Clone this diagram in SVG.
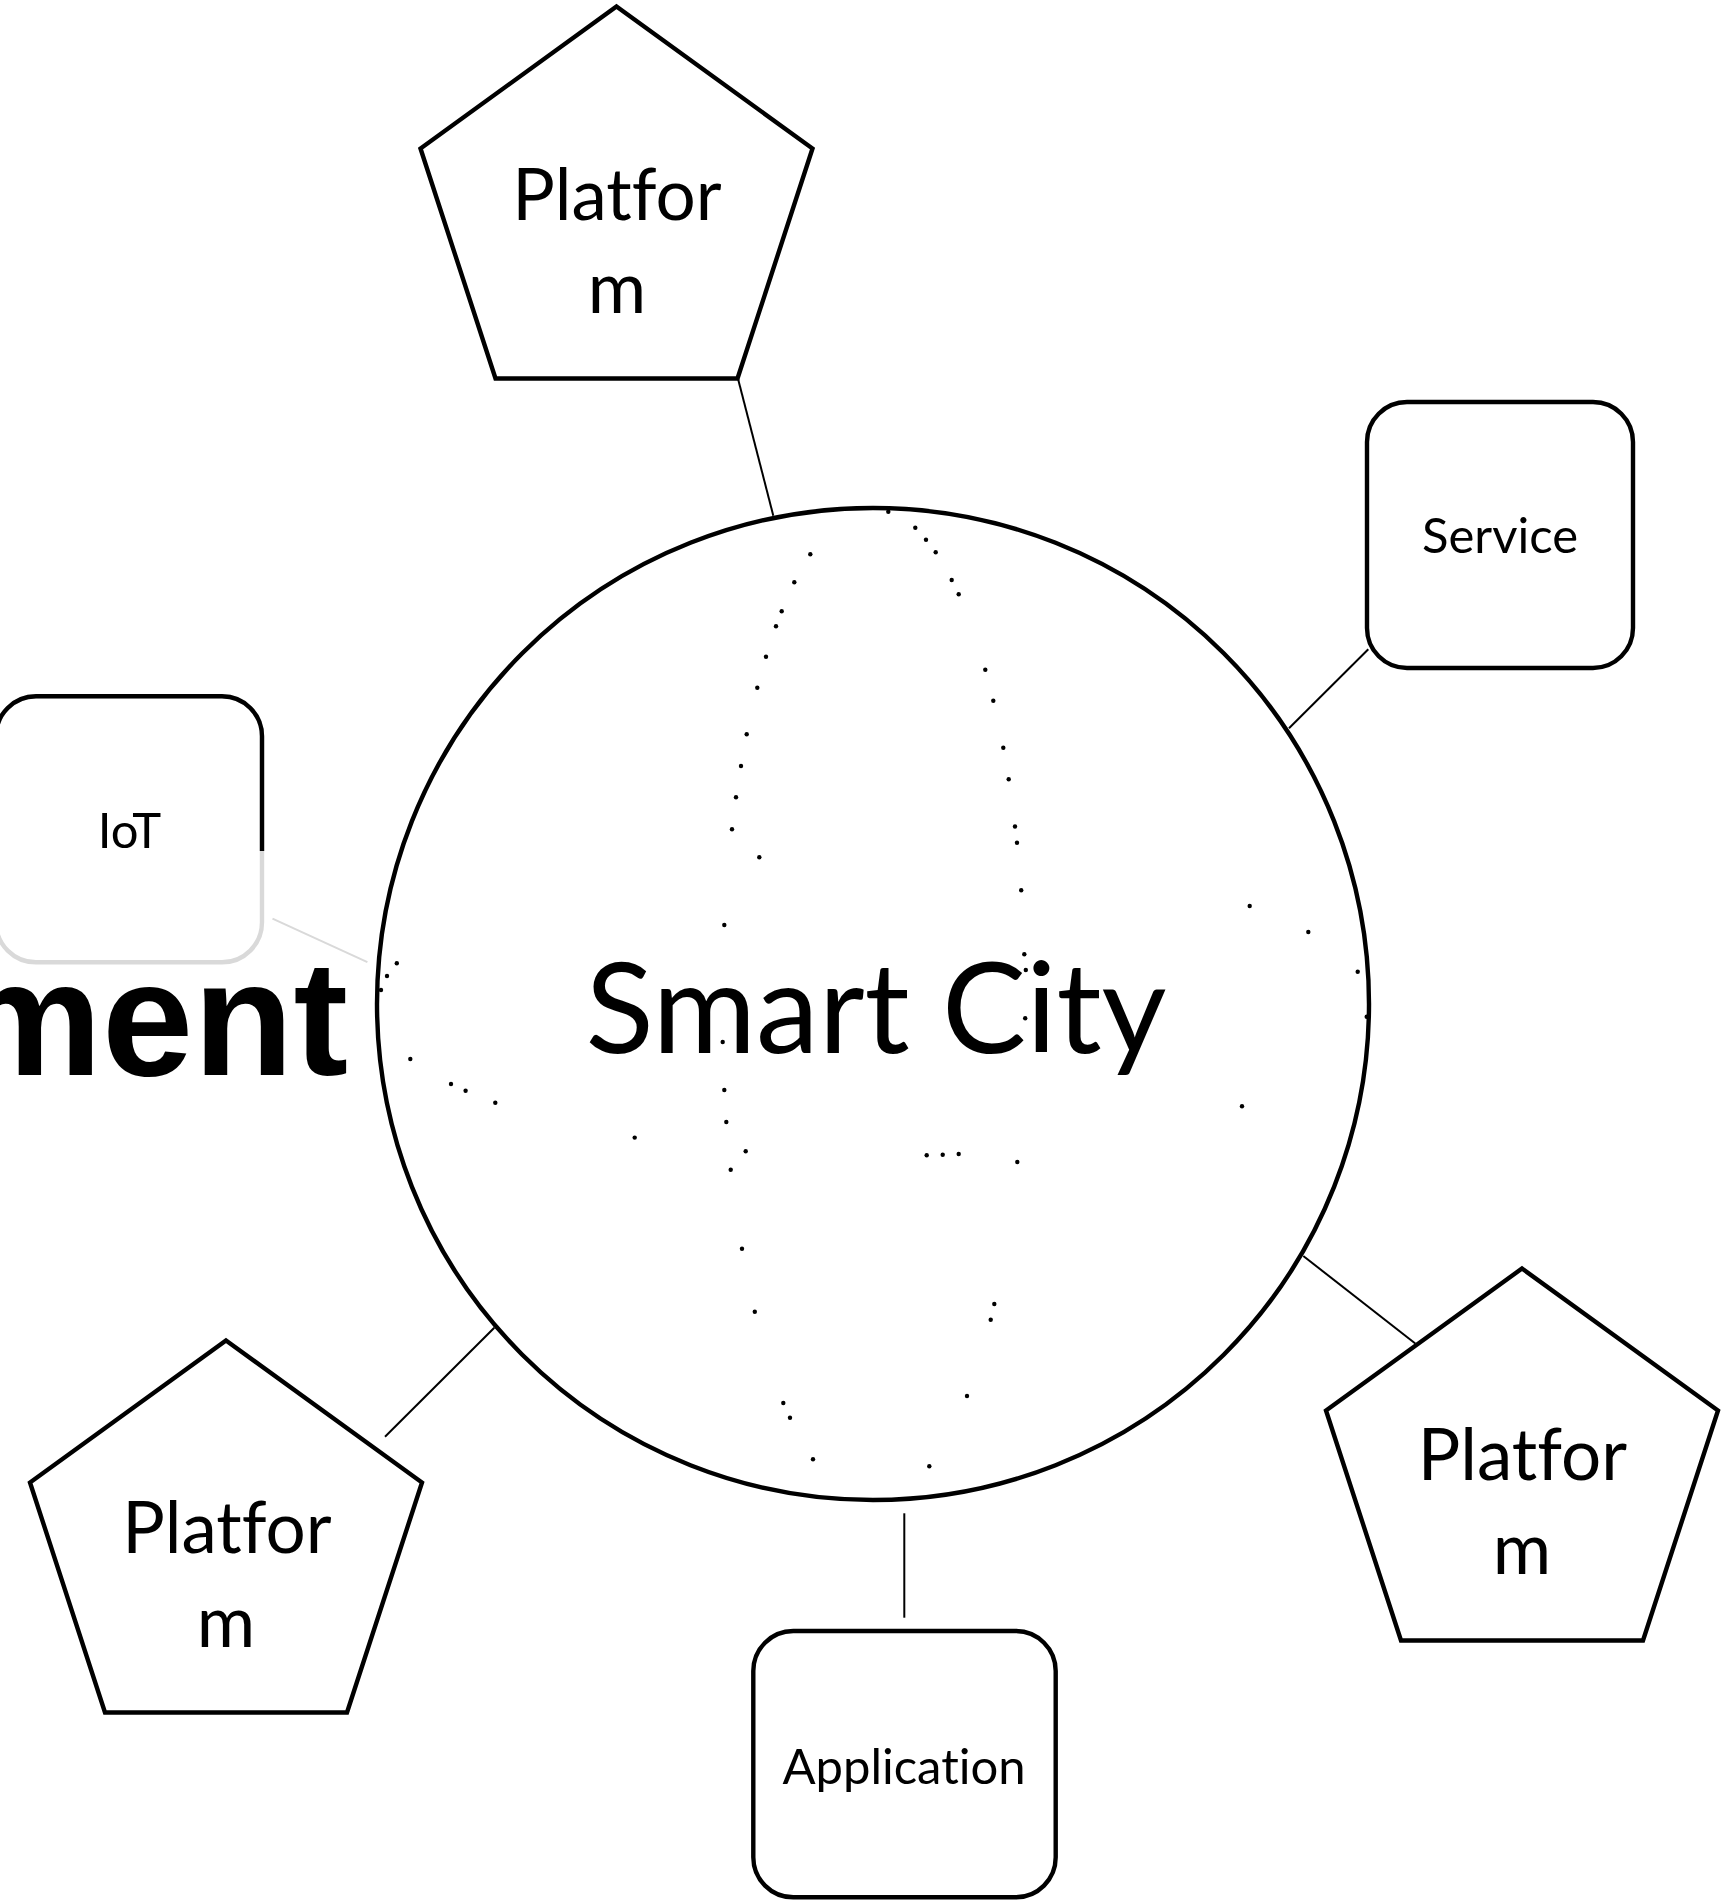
<svg xmlns="http://www.w3.org/2000/svg" width="1726" height="1901" viewBox="0 0 1726 1901">
<defs>
<style>
.shape{fill:#ffffff;stroke:#000000;stroke-width:4.4;stroke-linejoin:miter}
.conn{stroke:#000000;stroke-width:2;fill:none}
.lbl{font-family:Lato,"Open Sans","DejaVu Sans",sans-serif;fill:#000000;text-anchor:middle;font-variant-ligatures:none;font-feature-settings:"liga" 0,"clig" 0}
.pl{font-size:71px}
.bx{font-size:49px}
.dot{fill:#000000}
</style>
<polygon id="pent" points="0,0 196,142 121,372 -121,372 -196,142"/>
</defs>
<rect width="1726" height="1901" fill="#ffffff"/>

<g id="title-fragment">
<text x="348" y="1074.5" font-family="'Liberation Sans',Arial,sans-serif" font-weight="bold" font-size="164" text-anchor="end" fill="#000000">ment</text>
</g>

<g id="connectors">
<line class="conn" x1="738" y1="378.7" x2="773.3" y2="515.7"/>
<line class="conn" x1="1368.3" y1="649.3" x2="1289" y2="728.3"/>
<line class="conn" x1="1303.3" y1="1256" x2="1415.3" y2="1343.5"/>
<line class="conn" x1="904.3" y1="1513.3" x2="904.3" y2="1617.7"/>
<line class="conn" x1="494.3" y1="1327.7" x2="385" y2="1436.7"/>
<line x1="272.5" y1="918.7" x2="367.4" y2="962.2" stroke="#d9d9d9" stroke-width="2"/>
</g>

<g id="smart-city">
<circle class="shape" cx="873" cy="1004" r="496"/>
<text class="lbl" x="876" y="1052.6" font-size="126">Smart City</text>
</g>

<g id="dots">
<circle class="dot" cx="888.3" cy="511.7" r="2.2"/>
<circle class="dot" cx="915.3" cy="527.7" r="2.2"/>
<circle class="dot" cx="926" cy="539.7" r="2.2"/>
<circle class="dot" cx="935.7" cy="552.3" r="2.2"/>
<circle class="dot" cx="951.7" cy="580" r="2.2"/>
<circle class="dot" cx="958.7" cy="594.3" r="2.2"/>
<circle class="dot" cx="985.3" cy="669.7" r="2.2"/>
<circle class="dot" cx="993.3" cy="700.7" r="2.2"/>
<circle class="dot" cx="1003.3" cy="747.7" r="2.2"/>
<circle class="dot" cx="1008.7" cy="779.3" r="2.2"/>
<circle class="dot" cx="1015" cy="826.5" r="2.2"/>
<circle class="dot" cx="1017" cy="842.8" r="2.2"/>
<circle class="dot" cx="1021.2" cy="890.3" r="2.2"/>
<circle class="dot" cx="1024.3" cy="954.3" r="2.2"/>
<circle class="dot" cx="1025.8" cy="970" r="2.2"/>
<circle class="dot" cx="1025.2" cy="1018.2" r="2.2"/>
<circle class="dot" cx="810.3" cy="554.3" r="2.2"/>
<circle class="dot" cx="794.3" cy="582.3" r="2.2"/>
<circle class="dot" cx="781.7" cy="611.3" r="2.2"/>
<circle class="dot" cx="776" cy="626.3" r="2.2"/>
<circle class="dot" cx="766" cy="656.7" r="2.2"/>
<circle class="dot" cx="757.3" cy="687.7" r="2.2"/>
<circle class="dot" cx="746.7" cy="734.3" r="2.2"/>
<circle class="dot" cx="741" cy="766" r="2.2"/>
<circle class="dot" cx="736" cy="797.3" r="2.2"/>
<circle class="dot" cx="732" cy="829.2" r="2.2"/>
<circle class="dot" cx="759.3" cy="857.3" r="2.2"/>
<circle class="dot" cx="724.3" cy="925" r="2.2"/>
<circle class="dot" cx="396.8" cy="963.3" r="2.2"/>
<circle class="dot" cx="387" cy="976" r="2.2"/>
<circle class="dot" cx="381" cy="990" r="2.2"/>
<circle class="dot" cx="1249.7" cy="906" r="2.2"/>
<circle class="dot" cx="1308.3" cy="932" r="2.2"/>
<circle class="dot" cx="1357.7" cy="971.7" r="2.2"/>
<circle class="dot" cx="1366.7" cy="1016.7" r="2.2"/>
<circle class="dot" cx="410.3" cy="1059" r="2.2"/>
<circle class="dot" cx="451" cy="1084" r="2.2"/>
<circle class="dot" cx="465.6" cy="1090.8" r="2.2"/>
<circle class="dot" cx="495.3" cy="1102.8" r="2.2"/>
<circle class="dot" cx="634.7" cy="1137.6" r="2.2"/>
<circle class="dot" cx="722.7" cy="1042" r="2.2"/>
<circle class="dot" cx="724.3" cy="1090" r="2.2"/>
<circle class="dot" cx="726.3" cy="1122" r="2.2"/>
<circle class="dot" cx="745.7" cy="1151.3" r="2.2"/>
<circle class="dot" cx="730.7" cy="1169.7" r="2.2"/>
<circle class="dot" cx="742" cy="1248.8" r="2.2"/>
<circle class="dot" cx="754.8" cy="1311.7" r="2.2"/>
<circle class="dot" cx="783.3" cy="1403" r="2.2"/>
<circle class="dot" cx="790" cy="1417.7" r="2.2"/>
<circle class="dot" cx="813" cy="1459.3" r="2.2"/>
<circle class="dot" cx="926.7" cy="1155.3" r="2.2"/>
<circle class="dot" cx="942.7" cy="1154.7" r="2.2"/>
<circle class="dot" cx="958.7" cy="1154" r="2.2"/>
<circle class="dot" cx="1017.3" cy="1162" r="2.2"/>
<circle class="dot" cx="1242" cy="1106.3" r="2.2"/>
<circle class="dot" cx="994.3" cy="1304" r="2.2"/>
<circle class="dot" cx="990.7" cy="1319.7" r="2.2"/>
<circle class="dot" cx="967" cy="1396" r="2.2"/>
<circle class="dot" cx="929.3" cy="1466.3" r="2.2"/>
</g>

<g id="platform-top">
<use href="#pent" class="shape" x="616.5" y="6.5"/>
<text class="lbl pl" x="617" y="220">Platfor</text>
<text class="lbl pl" x="617" y="312.7">m</text>
</g>

<g id="platform-left">
<use href="#pent" class="shape" x="226" y="1340.5"/>
<text class="lbl pl" x="227" y="1553.3">Platfor</text>
<text class="lbl pl" x="226" y="1646.5">m</text>
</g>

<g id="platform-right">
<use href="#pent" class="shape" x="1522" y="1268.5"/>
<text class="lbl pl" x="1522.5" y="1480">Platfor</text>
<text class="lbl pl" x="1522" y="1574">m</text>
</g>

<g id="service">
<rect class="shape" x="1367" y="402" width="266" height="266" rx="40" ry="40"/>
<text class="lbl bx" x="1500" y="553">Service</text>
</g>

<g id="application">
<rect class="shape" x="753.3" y="1631" width="302.4" height="266.3" rx="40" ry="40"/>
<text class="lbl bx" x="904" y="1784">Application</text>
</g>

<g id="iot">
<rect x="-4" y="696.3" width="266" height="266" rx="40" ry="40" fill="#ffffff" stroke="#d9d9d9" stroke-width="4.4"/>
<path d="M262 851 V736.3 A40 40 0 0 0 222 696.3 H36 A40 40 0 0 0 -4 736.3 V851" fill="none" stroke="#000000" stroke-width="4.4"/>
<text class="lbl bx" x="129.5" y="848">IoT</text>
</g>
</svg>
